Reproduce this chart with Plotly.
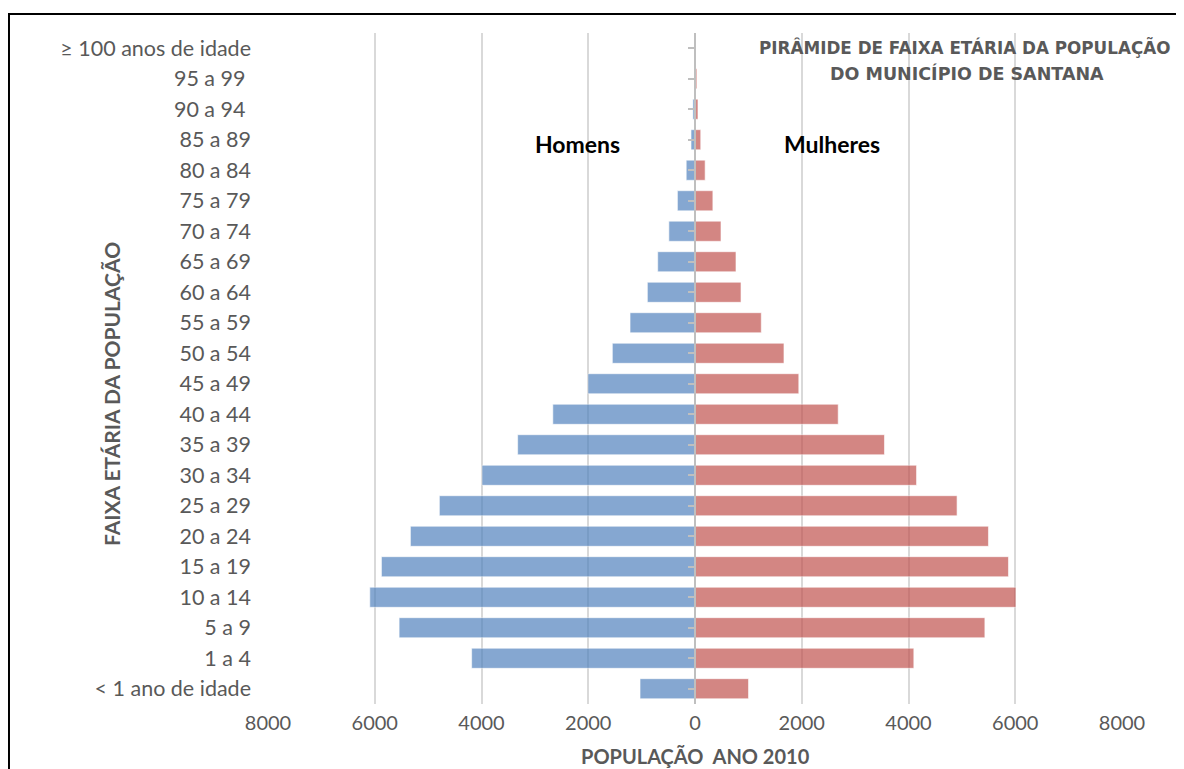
import plotly.graph_objects as go

categories = ["< 1 ano de idade", "1 a 4", "5 a 9", "10 a 14", "15 a 19", "20 a 24",
              "25 a 29", "30 a 34", "35 a 39", "40 a 44", "45 a 49", "50 a 54",
              "55 a 59", "60 a 64", "65 a 69", "70 a 74", "75 a 79", "80 a 84",
              "85 a 89", "90 a 94 ", "95 a 99 ", "≥ 100 anos de idade"]
homens = [1030, 4185, 5544, 6093, 5875, 5332, 4790, 3990, 3323, 2664, 2005, 1549,
          1217, 893, 699, 490, 330, 165, 75, 40, 8, 2]
mulheres = [1003, 4100, 5431, 6013, 5873, 5498, 4910, 4151, 3550, 2683, 1945, 1667,
            1242, 862, 768, 487, 335, 190, 108, 56, 35, 15]
x_ticks = [-8000, -6000, -4000, -2000, 0, 2000, 4000, 6000, 8000]
x_ticktext = ["8000", "6000", "4000", "2000", "0", "2000", "4000", "6000", "8000"]

FONT = "Lato"
GRAY = "#595959"

fig = go.Figure()
fig.add_trace(go.Bar(
    y=categories, x=[-v for v in homens], orientation="h", name="Homens",
    width=0.66, marker=dict(color="rgb(79,129,189)", opacity=0.69,
                            line=dict(color="rgba(255,255,255,0.6)", width=1)),
    yaxis="y"))
fig.add_trace(go.Bar(
    y=categories, x=mulheres, orientation="h", name="Mulheres",
    width=0.66, marker=dict(color="rgb(192,80,77)", opacity=0.69,
                            line=dict(color="rgba(255,255,255,0.6)", width=1)),
    yaxis="y2"))

fig.update_layout(
    width=1176, height=761,
    margin=dict(l=260, r=62, t=25, b=64.7),
    paper_bgcolor="white", plot_bgcolor="white",
    barmode="overlay", showlegend=False,
    font=dict(family=FONT, color=GRAY, size=18),
    xaxis=dict(range=[-8000, 8000], tickvals=x_ticks, ticktext=x_ticktext,
               showgrid=True, gridcolor="#d9d9d9", gridwidth=2,
               zeroline=False, showline=False, ticks="",
               ticklabelstandoff=5,
               tickfont=dict(family=FONT, size=20, color=GRAY)),
    yaxis=dict(categoryorder="array", categoryarray=categories,
               range=[-0.5, len(categories) - 0.5],
               showgrid=False, zeroline=False, showline=False, ticks="",
               ticklabelstandoff=16,
               tickfont=dict(family=FONT, size=21.5, color=GRAY)),
    yaxis2=dict(matches="y", overlaying="y", anchor="free", position=0.5,
                side="left", showgrid=False, zeroline=False,
                showline=True, linecolor="#bfbfbf", linewidth=2,
                ticks="outside", ticklen=6, tickwidth=2, tickcolor="#bfbfbf",
                showticklabels=False),
)

def note(text, x, y, size, color=GRAY, family=FONT, angle=0):
    fig.add_annotation(text=text, xref="paper", yref="paper", x=x, y=y,
                       xanchor="center", yanchor="middle", showarrow=False,
                       textangle=angle,
                       font=dict(family=family, size=size, color=color))

# axis titles
note("<b>POPULAÇÃO  ANO 2010</b>", 0.5, -0.078, 20)
note("<b>FAIXA ETÁRIA DA POPULAÇÃO</b>", -0.1827, 0.462, 21, angle=-90)

note("<b>Homens</b>", 0.362, 0.834, 23, color="black")
note("<b>Mulheres</b>", 0.660, 0.834, 23, color="black")

note("<b>PIRÂMIDE DE FAIXA ETÁRIA DA POPULAÇÃO</b>", 0.816, 0.979, 16.8, family="DejaVu Sans")
note("<b>DO MUNICÍPIO DE SANTANA</b>", 0.819, 0.940, 17.5, family="DejaVu Sans")

fig.add_shape(type="rect", xref="paper", yref="paper",
              x0=-0.3033, x1=1.3, y0=-0.3, y1=1.0283,
              line=dict(color="black", width=2), layer="above")

fig.write_html("out.html")
